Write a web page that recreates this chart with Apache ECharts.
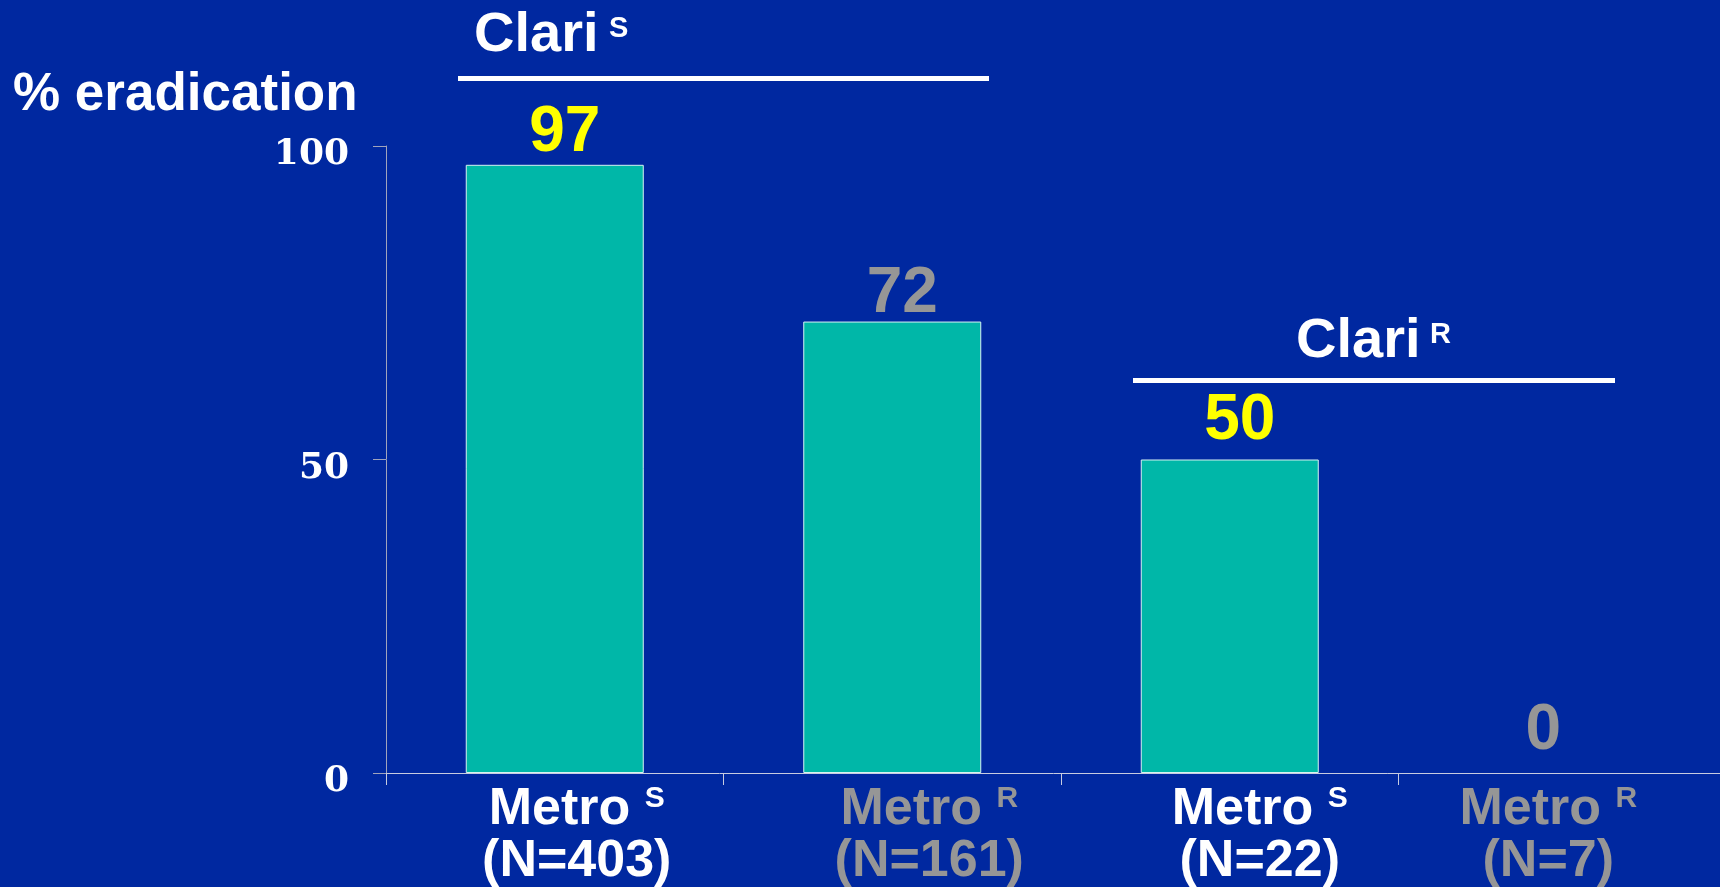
<!DOCTYPE html>
<html>
<head>
<meta charset="utf-8">
<script src="https://cdn.jsdelivr.net/npm/echarts@6/dist/echarts.min.js"></script>
<style>
  html, body { margin: 0; padding: 0; background: #0028a0; }
  #chart { width: 1720px; height: 887px; }
</style>
</head>
<body>
<div id="chart"></div>
<script>
// Eradication rate by metronidazole status, split by clarithromycin status
const drugName = 'Metro';
const metroStatus = ['S', 'R', 'S', 'R'];
const sampleSizes = [403, 161, 22, 7];
const eradication = [97, 72, 50, 0];
const yTickValues = [0, 50, 100];
const clariGroups = ['S', 'R'];
const yAxisTitle = '% eradication';

const BG = '#0028a0';
const TEAL = '#00b7a8';
const WHITE = '#ffffff';
const GREY = '#969696';
const YELLOW = '#ffff00';
const SANS = 'Liberation Sans, Arial, sans-serif';
const SERIF = 'DejaVu Serif, Liberation Serif, serif';

// small nudges for category labels and value labels (px)
const catLabelShift = [22, 37, 30, -19];
const valueLabelShift = [[10, 7], [10, 11], [10, 0], [-24, -4]];

const categories = metroStatus.map((s, i) => ({
  value: drugName + '|' + s + '|' + sampleSizes[i],
  textStyle: {
    padding: catLabelShift[i] >= 0 ? [0, 0, 0, 2 * catLabelShift[i]] : [0, -2 * catLabelShift[i], 0, 0]
  }
}));

const chart = echarts.init(document.getElementById('chart'));

const option = {
  backgroundColor: BG,
  animation: false,
  grid: { left: 386, width: 1350, top: 146, bottom: 114, outerBoundsMode: 'none', containLabel: false },
  xAxis: {
    type: 'category',
    data: categories,
    axisLine: { lineStyle: { color: '#c8cce0', width: 1 } },
    axisTick: { show: true, length: 12, lineStyle: { color: '#c8cce0' } },
    axisLabel: {
      interval: 0,
      margin: 11,
      formatter: function (v) {
        const parts = v.split('|');
        const k = parts[1] === 'S' ? 'w' : 'g';
        return '{' + k + '|' + parts[0] + ' }{' + k + 's|' + parts[1] + '}\n{' + k + '|(N=' + parts[2] + ')}';
      },
      rich: {
        w: { fontFamily: SANS, fontWeight: 'bold', fontSize: 52, lineHeight: 52, color: WHITE },
        ws: { fontFamily: SANS, fontWeight: 'bold', fontSize: 30, lineHeight: 30, color: WHITE, verticalAlign: 'top' },
        g: { fontFamily: SANS, fontWeight: 'bold', fontSize: 52, lineHeight: 52, color: GREY },
        gs: { fontFamily: SANS, fontWeight: 'bold', fontSize: 30, lineHeight: 30, color: GREY, verticalAlign: 'top' }
      }
    },
    splitLine: { show: false }
  },
  yAxis: {
    type: 'value',
    min: yTickValues[0],
    max: yTickValues[yTickValues.length - 1],
    interval: yTickValues[1] - yTickValues[0],
    axisLine: { show: true, lineStyle: { color: '#a0a4bc', width: 1 } },
    axisTick: { show: true, length: 13, lineStyle: { color: '#a0a4bc' } },
    axisLabel: {
      margin: 37,
      formatter: '{v|{value}}',
      rich: {
        v: {
          padding: [18, 0, 0, 0],
          fontFamily: SERIF,
          fontWeight: 'bold',
          fontSize: 36,
          lineHeight: 36,
          color: WHITE
        }
      }
    },
    splitLine: { show: false }
  },
  series: [{
    type: 'bar',
    barWidth: 178,
    itemStyle: { color: TEAL, borderColor: '#d6f2f2', borderWidth: 1 },
    label: {
      show: true,
      position: 'top',
      distance: 6,
      fontFamily: SANS,
      fontWeight: 'bold',
      fontSize: 64,
      formatter: '{c}'
    },
    data: eradication.map((v, i) => ({
      value: v,
      itemStyle: v === 0 ? { borderWidth: 0 } : undefined,
      label: {
        color: metroStatus[i] === 'S' ? YELLOW : GREY,
        offset: valueLabelShift[i]
      }
    }))
  }],
  graphic: [
    {
      type: 'text', x: 13, y: 95,
      style: { text: yAxisTitle, fill: WHITE, font: 'bold 53px ' + SANS, verticalAlign: 'middle' }
    },
    {
      type: 'text', x: 474, y: 36,
      style: { text: 'Clari', fill: WHITE, font: 'bold 56px ' + SANS, verticalAlign: 'middle' }
    },
    {
      type: 'text', x: 609, y: 29,
      style: { text: clariGroups[0], fill: WHITE, font: 'bold 29px ' + SANS, verticalAlign: 'middle' }
    },
    {
      type: 'rect', shape: { x: 458, y: 76, width: 531, height: 5 },
      style: { fill: WHITE }
    },
    {
      type: 'text', x: 1296, y: 342,
      style: { text: 'Clari', fill: WHITE, font: 'bold 56px ' + SANS, verticalAlign: 'middle' }
    },
    {
      type: 'text', x: 1430, y: 335,
      style: { text: clariGroups[1], fill: WHITE, font: 'bold 29px ' + SANS, verticalAlign: 'middle' }
    },
    {
      type: 'rect', shape: { x: 1133, y: 378, width: 482, height: 5 },
      style: { fill: WHITE }
    }
  ]
};

chart.setOption(option);
</script>
</body>
</html>
